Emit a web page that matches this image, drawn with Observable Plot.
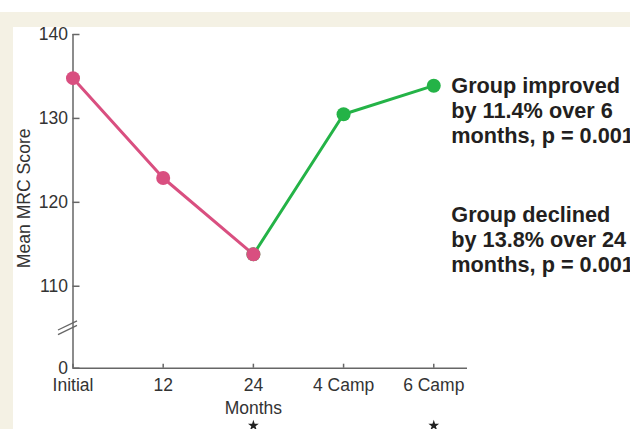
<!DOCTYPE html>
<html><head><meta charset="utf-8">
<script src="https://cdn.jsdelivr.net/npm/d3@7"></script>
<script src="https://cdn.jsdelivr.net/npm/@observablehq/plot@0.6"></script>
<style>
html,body{margin:0;padding:0;background:#fff;width:630px;height:429px;overflow:hidden;}
#beige{position:absolute;left:0;top:12px;width:630px;height:417px;background:#f4f1e4;}
#panel{position:absolute;left:13px;top:27px;width:617px;height:402px;background:#fff;}
#chart{position:absolute;left:0;top:0;}
</style></head><body>
<div id="beige"></div><div id="panel"></div><div id="chart"></div>
<script>
const timepoints = ["Initial", "12", "24", "4 Camp", "6 Camp"];
const declinePoints = ["Initial", "12", "24"];
const declineValues = [134.8, 122.9, 113.8];
const improvePoints = ["24", "4 Camp", "6 Camp"];
const improveValues = [113.8, 130.5, 133.9];
const yTicks = [0, 110, 120, 130, 140];
const starred = ["24", "6 Camp"];
const breakAt = 105;
const annotationTexts = [
  "Group improved\nby 11.4% over 6\nmonths, p = 0.001",
  "Group declined\nby 13.8% over 24\nmonths, p = 0.001"
];
const annotationY = [135.1, 119.8];

const decline = declinePoints.map((t, i) => ({t, v: declineValues[i]}));
const improve = improvePoints.map((t, i) => ({t, v: improveValues[i]}));
const annotations = annotationTexts.map((text, i) => ({t: "6 Camp", v: annotationY[i], text}));

const pink = "#d94f80";
const green = "#24b347";
const axisColor = "#666";
const font = "'Liberation Sans', Arial, Helvetica, sans-serif";

function breakMarks(index, scales) {
  const cx = scales.x("Initial") - 5;
  const cy = scales.y(breakAt);
  const g = d3.create("svg:g");
  for (const off of [-2.3, 2.3]) {
    g.append("line")
      .attr("x1", cx - 9.5).attr("y1", cy + off + 4.6)
      .attr("x2", cx + 9.5).attr("y2", cy + off - 4.6)
      .attr("stroke", axisColor).attr("stroke-width", 1.3);
  }
  return g.node();
}

const chart = Plot.plot({
  width: 630,
  height: 429,
  marginLeft: 72.5,
  marginRight: 163,
  marginTop: 34,
  marginBottom: 61.3,
  style: {background: "transparent", fontFamily: font, fontSize: "17.5px", color: "#333"},
  x: {type: "point", domain: timepoints, padding: 0.187, align: 0, round: false},
  y: {type: "linear", domain: [0, breakAt, 140], range: [367.7, 327.7, 34]},
  marks: [
    Plot.ruleX(["Initial"], {y1: 0, y2: 140, stroke: axisColor, strokeWidth: 1.5}),
    Plot.ruleY([0], {stroke: axisColor, strokeWidth: 1.5}),
    Plot.axisY({ticks: yTicks, tickSize: -7, tickPadding: 12, label: null, stroke: axisColor, strokeWidth: 1.5, fontSize: 17.5}),
    Plot.axisX({tickSize: -4, tickPadding: 14, label: null, stroke: axisColor, strokeWidth: 1.5, fontSize: 17.5}),
    breakMarks,
    Plot.line(improve, {x: "t", y: "v", stroke: green, strokeWidth: 3, strokeLinejoin: "round"}),
    Plot.line(decline, {x: "t", y: "v", stroke: pink, strokeWidth: 3, strokeLinejoin: "round"}),
    Plot.dot(improve, {x: "t", y: "v", r: 7, fill: green, stroke: null}),
    Plot.dot(decline, {x: "t", y: "v", r: 7, fill: pink, stroke: null}),
    Plot.text(annotations, {x: "t", y: "v", text: "text", textAnchor: "start", lineAnchor: "top",
      dx: 17.5, fontSize: 21.7, fontWeight: "bold", lineHeight: 25 / 21.7, fill: "#231f20"}),
    Plot.text(["Months"], {x: () => "24", y: () => 0, text: d => d, lineAnchor: "top", dy: 33, fontSize: 17.5, fill: "#333"}),
    Plot.text(["Mean MRC Score"], {frameAnchor: "left", text: d => d, textAnchor: "middle", lineAnchor: "middle",
      rotate: -90, dx: -49, dy: -3, fontSize: 17.6, fill: "#333"}),
    Plot.dot(starred, {x: d => d, y: () => 0, symbol: "star", r: 3.4, fill: "#222", stroke: null, dy: 57.3})
  ]
});
document.getElementById("chart").appendChild(chart);
</script>
</body></html>
